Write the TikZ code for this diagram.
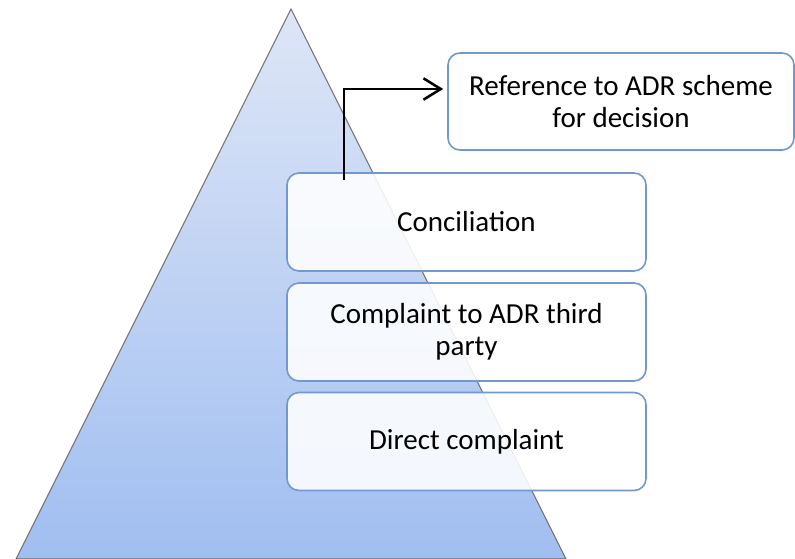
\documentclass[tikz,border=0pt]{standalone}
\usepackage{fontspec}
\setmainfont{Carlito}
\usetikzlibrary{arrows.meta,calc}
\definecolor{boxline}{RGB}{115,152,206}
\definecolor{tritop}{RGB}{222,230,247}
\definecolor{tribot}{RGB}{160,190,240}
\definecolor{triedge}{RGB}{110,110,110}
\tikzset{
  stagebox/.style={draw=boxline, line width=1.2pt, fill=white, fill opacity=0.88,
    text opacity=1, rounded corners=9pt, align=center,
    minimum width=269.25pt, minimum height=73.5pt, inner sep=2pt,
    font=\fontsize{21.75}{24}\selectfont},
  refbox/.style={stagebox, fill opacity=1, minimum width=259.5pt, minimum height=72.75pt},
  arr/.style={draw=black, line width=1.9pt, -{Straight Barb[length=13pt,width=16pt,line width=1.9pt]}}
}
\begin{document}
\begin{tikzpicture}[x=0.75pt,y=-0.75pt]
\useasboundingbox (0,0) rectangle (795,558);
\path[draw=triedge, line width=0.8pt, top color=tritop, bottom color=tribot]
  (291,9) -- (566,559) -- (16,559) -- cycle;
\node[stagebox] (concil) at (466.5,222) {Conciliation};
\node[stagebox] (third) at (466.5,332) {Complaint to ADR third\\party};
\node[stagebox] (direct) at (466.5,441.5) {Direct complaint};
\node[refbox] (ref) at (621,101.5) {Reference to ADR scheme\\for decision};
\coordinate (s) at (344,180);
\draw[arr] (s) |- ($(ref.west)+(-4,-12.5)$);
\end{tikzpicture}
\end{document}
